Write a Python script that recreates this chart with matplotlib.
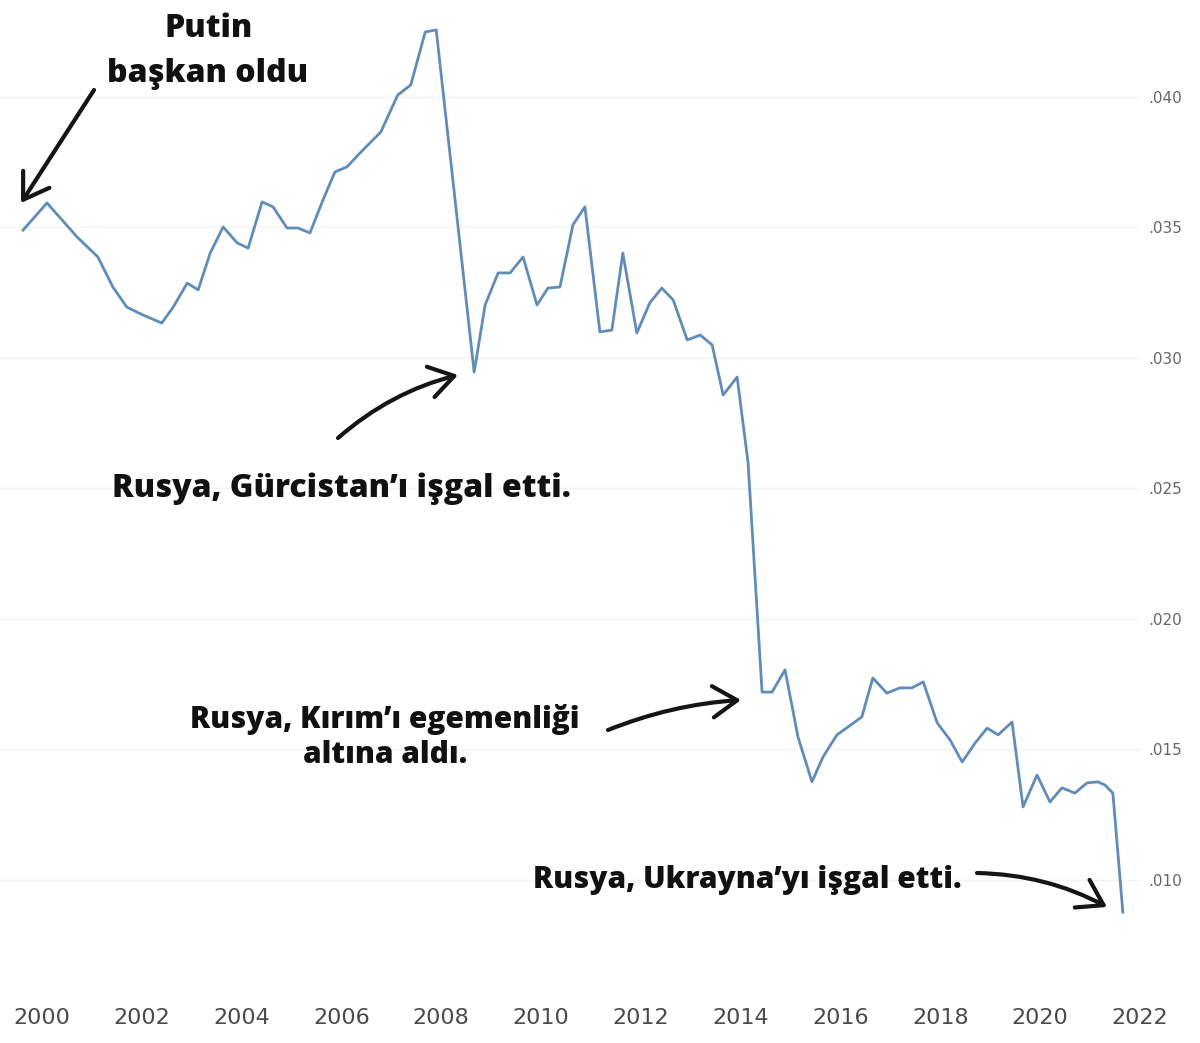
import matplotlib
matplotlib.use('Agg')
import matplotlib.pyplot as plt

# ---- data ----
years = [1999.62, 2000.10, 2000.70, 2001.12, 2001.42, 2001.70, 2002.02, 2002.40,
         2002.63, 2002.91, 2003.13, 2003.37, 2003.63, 2003.91, 2004.13, 2004.41,
         2004.63, 2004.91, 2005.13, 2005.37, 2005.63, 2005.87, 2006.11, 2006.37,
         2006.79, 2007.13, 2007.39, 2007.68, 2007.90, 2008.66, 2008.88, 2009.14,
         2009.38, 2009.64, 2009.92, 2010.14, 2010.38, 2010.64, 2010.88, 2011.18,
         2011.42, 2011.64, 2011.92, 2012.18, 2012.42, 2012.65, 2012.93, 2013.19,
         2013.43, 2013.65, 2013.93, 2014.15, 2014.43, 2014.63, 2014.89, 2015.15,
         2015.43, 2015.65, 2015.93, 2016.15, 2016.43, 2016.65, 2016.93, 2017.19,
         2017.43, 2017.66, 2017.94, 2018.20, 2018.44, 2018.70, 2018.94, 2019.16,
         2019.44, 2019.66, 2019.94, 2020.20, 2020.44, 2020.70, 2020.94, 2021.16,
         2021.30, 2021.46, 2021.66]
share = [0.03490, 0.03594, 0.03464, 0.03387, 0.03272, 0.03195, 0.03165, 0.03134,
         0.03195, 0.03287, 0.03261, 0.03402, 0.03502, 0.03441, 0.03421, 0.03598,
         0.03579, 0.03498, 0.03498, 0.03479, 0.03605, 0.03713, 0.03732, 0.03785,
         0.03866, 0.04008, 0.04046, 0.04249, 0.04257, 0.02946, 0.03203, 0.03326,
         0.03326, 0.03387, 0.03203, 0.03268, 0.03272, 0.03510, 0.03579, 0.03100,
         0.03107, 0.03402, 0.03096, 0.03211, 0.03268, 0.03222, 0.03069, 0.03088,
         0.03050, 0.02858, 0.02927, 0.02598, 0.01720, 0.01720, 0.01805, 0.01548,
         0.01376, 0.01471, 0.01556, 0.01586, 0.01625, 0.01774, 0.01716, 0.01736,
         0.01736, 0.01759, 0.01602, 0.01536, 0.01452, 0.01525, 0.01582, 0.01556,
         0.01605, 0.01280, 0.01402, 0.01299, 0.01353, 0.01333, 0.01372, 0.01376,
         0.01364, 0.01333, 0.00877]
xtick_years = list(range(2000, 2023, 2))
ytick_vals = [0.010, 0.015, 0.020, 0.025, 0.030, 0.035, 0.040]
ytick_labels = ['.010', '.015', '.020', '.025', '.030', '.035', '.040']

notes = {
    'putin1': 'Putin',
    'putin2': 'başkan oldu',
    'georgia': 'Rusya, Gürcistan’ı işgal etti.',
    'crimea1': 'Rusya, Kırım’ı egemenliği',
    'crimea2': 'altına aldı.',
    'ukraine': 'Rusya, Ukrayna’yı işgal etti.',
}

# ---- figure ----
W, H = 1200, 1043
fig = plt.figure(figsize=(W / 100, H / 100), dpi=100)
fig.patch.set_facecolor('white')
ax = fig.add_axes([0, 43 / H, 1140 / W, 1000 / H])
ax.set_facecolor('white')

ax.plot(years, share, color='#5f8db8', lw=2.0, solid_joinstyle='round', zorder=3)

ax.set_xlim(1999.158, 2022.004)
ax.set_ylim(0.005402, 0.043716)
for s in ax.spines.values():
    s.set_visible(False)

ax.set_xticks(xtick_years)
ax.set_xticklabels([str(y) for y in xtick_years])
ax.tick_params(axis='x', length=0, pad=6, labelsize=16, labelcolor='#4a4a4a')
ax.yaxis.tick_right()
ax.set_yticks(ytick_vals)
ax.set_yticklabels(ytick_labels)
ax.tick_params(axis='y', length=0, pad=6, labelsize=11, labelcolor='#666666')
ax.grid(axis='y', color='#f3f3f3', lw=1)
ax.grid(axis='x', visible=False)

FONT = dict(fontfamily='Open Sans', fontweight='extra bold', color='#111111')


def label(s, x, y, ha='center', fs=23):
    fig.text(x / W, 1 - y / H, s, ha=ha, va='baseline', fontsize=fs, **FONT)


def arrow(x0, y0, x1, y1, rad):
    ax.annotate('', xy=(x1, H - y1), xycoords='figure pixels',
                xytext=(x0, H - y0), textcoords='figure pixels',
                arrowprops=dict(arrowstyle='->,head_length=0.7,head_width=0.45',
                                lw=3, color='#151515', mutation_scale=25,
                                connectionstyle=f'arc3,rad={rad}',
                                shrinkA=0, shrinkB=0,
                                joinstyle='round', capstyle='round'))


label(notes['putin1'], 209, 37)
label(notes['putin2'], 208, 82)
label(notes['georgia'], 341, 497)
label(notes['crimea1'], 385, 728, fs=21.5)
label(notes['crimea2'], 385, 763, fs=21.5)
label(notes['ukraine'], 962, 888, ha='right', fs=21.5)

arrow(94, 90, 21, 203, 0.0)
arrow(338, 438, 458, 375, -0.12)
arrow(608, 730, 741, 700, -0.08)
arrow(977, 873, 1107, 907, -0.12)

fig.savefig('out.png', dpi=100, facecolor='white')
